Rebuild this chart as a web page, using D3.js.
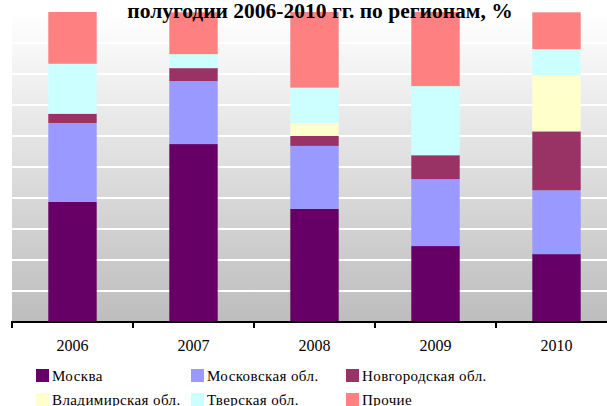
<!DOCTYPE html>
<html>
<head>
<meta charset="utf-8">
<script src="https://cdn.jsdelivr.net/npm/d3@7"></script>
<style>
body { margin: 0; background: #fff; }
text { font-family: "Times New Roman", "Liberation Serif", serif; fill: #000; }
</style>
</head>
<body>
<script>
var years = ["2006", "2007", "2008", "2009", "2010"];
var regions = ["Москва", "Московская обл.", "Новгородская обл.", "Владимирская обл.", "Тверская обл.", "Прочие"];
var colors = ["#660066", "#9999ff", "#993366", "#ffffcc", "#ccffff", "#ff8080"];

// shares per region, one value per year
var moscow    = [38.8, 57.4, 36.5, 24.5, 21.9];
var moscowObl = [25.4, 20.3, 20.3, 21.6, 20.6];
var novgorod  = [3.0, 4.2, 3.2, 7.7, 19.0];
var vladimir  = [0, 0, 4.2, 0, 18.1];
var tver      = [16.1, 4.5, 11.4, 22.3, 8.4];
var other     = [16.7, 13.5, 24.4, 23.9, 11.9];

var series = [moscow, moscowObl, novgorod, vladimir, tver, other];

var W = 607, H = 406;
var pLeft = 12, pRight = 617, pTop = 12, pBottom = 322;

var svg = d3.select("body").append("svg")
    .attr("width", W)
    .attr("height", H);

var x = d3.scaleBand().domain(years).range([pLeft, pRight])
    .paddingInner(0.6).paddingOuter(0.3);
var y = d3.scaleLinear().domain([0, 100]).range([pBottom, pTop]);

// plot background
var grad = svg.append("defs").append("linearGradient")
    .attr("id", "bg").attr("x1", 0).attr("y1", 0).attr("x2", 0).attr("y2", 1);
grad.append("stop").attr("offset", "0%").attr("stop-color", "#ffffff");
grad.append("stop").attr("offset", "100%").attr("stop-color", "#bdbdbd");

svg.append("rect")
    .attr("x", pLeft).attr("y", pTop)
    .attr("width", pRight - pLeft).attr("height", pBottom - pTop)
    .attr("fill", "url(#bg)");

svg.selectAll("line.grid")
    .data(y.ticks(10).filter(function (d) { return d > 0; }))
    .enter().append("line")
    .attr("class", "grid")
    .attr("x1", pLeft).attr("x2", pRight)
    .attr("y1", function (d) { return y(d); })
    .attr("y2", function (d) { return y(d); })
    .attr("stroke", "#ffffff")
    .attr("stroke-width", 2);

// stacked bars
var rows = years.map(function (yr, i) {
    var r = { year: yr };
    regions.forEach(function (name, j) { r[name] = series[j][i]; });
    return r;
});
var stack = d3.stack().keys(regions)(rows);

svg.selectAll("g.layer")
    .data(stack)
    .enter().append("g")
    .attr("class", "layer")
    .attr("fill", function (d, i) { return colors[i]; })
    .selectAll("rect")
    .data(function (d) { return d; })
    .enter().append("rect")
    .attr("x", function (d) { return x(d.data.year); })
    .attr("width", x.bandwidth())
    .attr("y", function (d) { return y(d[1]); })
    .attr("height", function (d) { return y(d[0]) - y(d[1]); });

// x axis
var xAxis = svg.append("g")
    .attr("transform", "translate(0," + pBottom + ")")
    .call(d3.axisBottom(x).tickSize(0).tickPadding(18));
xAxis.select(".domain").remove();
xAxis.selectAll("text")
    .style("font-size", "16px")
    .style("font-family", "'Times New Roman', 'Liberation Serif', serif");

svg.append("line")
    .attr("x1", pLeft - 1).attr("x2", W)
    .attr("y1", pBottom).attr("y2", pBottom)
    .attr("stroke", "#000").attr("stroke-width", 2);

var step = x.step();
var bounds = years.map(function (d) { return x(d) - step * 0.3; });
svg.selectAll("line.xtick")
    .data(bounds)
    .enter().append("line")
    .attr("class", "xtick")
    .attr("x1", function (d) { return d; })
    .attr("x2", function (d) { return d; })
    .attr("y1", pBottom).attr("y2", pBottom + 6)
    .attr("stroke", "#000").attr("stroke-width", 2);

// title (cut at top of the frame)
svg.append("text")
    .attr("x", 320).attr("y", 18)
    .attr("text-anchor", "middle")
    .style("font-size", "21.5px")
    .style("font-weight", "bold")
    .text("полугодии 2006-2010 гг. по регионам, %");

// legend
var legend = svg.selectAll("g.legend")
    .data(regions)
    .enter().append("g")
    .attr("class", "legend")
    .attr("transform", function (d, i) {
        return "translate(" + (36 + (i % 3) * 155) + "," + (369 + Math.floor(i / 3) * 24) + ")";
    });

legend.append("rect")
    .attr("width", 13).attr("height", 13)
    .attr("fill", function (d, i) { return colors[i]; });

legend.append("text")
    .attr("x", 16).attr("y", 11.5)
    .style("font-size", "15px")
    .style("letter-spacing", "0.4px")
    .text(function (d) { return d; });
</script>
</body>
</html>
